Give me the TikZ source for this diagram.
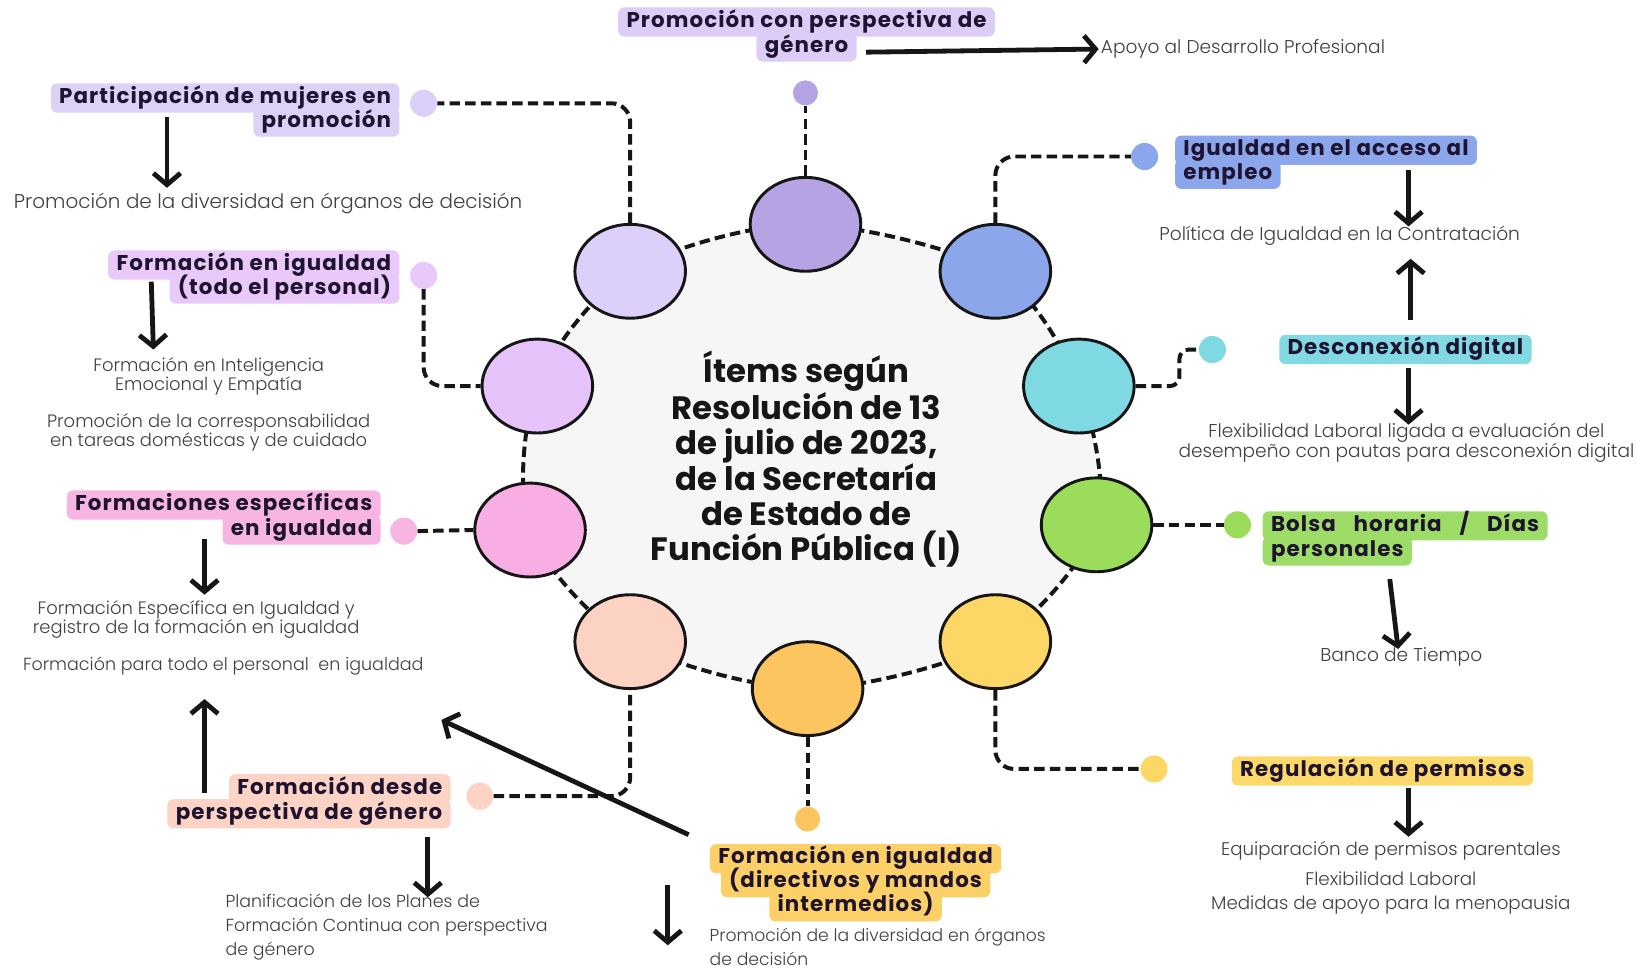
\documentclass[tikz,border=0pt]{standalone}
\usepackage{fontspec}
\setmainfont{Poppins}
\IfFontExistsTF{Poppins Light}{\newfontfamily\descfont{Poppins Light}}{\newfontfamily\descfont{Poppins}}
\newfontfamily\labfont{Poppins}[LetterSpace=5]
\newfontfamily\titfont{Poppins}
\usetikzlibrary{arrows.meta,shapes.geometric}
\definecolor{cTop}{HTML}{B5A3E3}
\definecolor{cUL}{HTML}{DCD0FA}
\definecolor{cUR}{HTML}{8CA6EC}
\definecolor{cL}{HTML}{E6C3FA}
\definecolor{cR}{HTML}{7FD9E3}
\definecolor{cPK}{HTML}{F8AEE3}
\definecolor{cG}{HTML}{9BDC5B}
\definecolor{cP}{HTML}{FCD2C2}
\definecolor{cB}{HTML}{FCC560}
\definecolor{cY}{HTML}{FDD766}
\definecolor{lTop}{HTML}{DCCDF8}
\definecolor{lUL}{HTML}{DCD2F8}
\definecolor{lL}{HTML}{E9C8FA}
\definecolor{lPK}{HTML}{F7B6E2}
\definecolor{lP}{HTML}{FCD3C4}
\definecolor{lB}{HTML}{FCD067}
\definecolor{lUR}{HTML}{8CA6EC}
\definecolor{lR}{HTML}{82D8E3}
\definecolor{lG}{HTML}{9DDC66}
\definecolor{lY}{HTML}{FCD96A}
\definecolor{labtext}{HTML}{1E1430}
\definecolor{desctext}{HTML}{404040}
\definecolor{ink}{HTML}{161616}
\definecolor{ringfill}{HTML}{F6F6F6}
% all label lines; #1 = extra options (pass 1: backgrounds, pass 2: texts)
\newcommand\labelset[1]{%
\node[lab,fill=lTop,#1] (t2) at (773,45) {género};
\node[lab,fill=lTop,#1] (t1) at (773,21) {Promoción con perspectiva de};
\node[lab,fill=lUL,anchor=east,#1] (ul2) at (383,117) {promoción};
\node[lab,fill=lUL,anchor=east,#1] (ul1) at (383,94) {Participación de mujeres en};
\node[lab,fill=lL,anchor=east,#1] (l2) at (383,277) {(todo el personal)};
\node[lab,fill=lL,anchor=east,#1] (l1) at (383,254) {Formación en igualdad};
\node[lab,fill=lPK,anchor=east,#1] (pk2) at (365,508) {en igualdad};
\node[lab,fill=lPK,anchor=east,#1] (pk1) at (365,484) {Formaciones específicas};
\node[lab,fill=lP,anchor=east,#1] (p2) at (432,780) {perspectiva de género};
\node[lab,fill=lP,anchor=east,#1] (p1) at (432,756) {Formación desde};
\node[lab,fill=lB,#1] (b3) at (820,869) {intermedios)};
\node[lab,fill=lB,#1] (b2) at (820,846) {(directivos y mandos};
\node[lab,fill=lB,#1] (b1) at (820,823) {Formación en igualdad};
\node[lab,fill=lUR,anchor=west,#1] (ur2) at (1126,167) {empleo};
\node[lab,fill=lUR,anchor=west,#1] (ur1) at (1126,144) {Igualdad en el acceso al};
\node[lab,fill=lR,#1] (rl) at (1347,335) {Desconexión digital};
\node[lab,fill=lG,anchor=west,#1] (g2) at (1210,528) {personales};
\node[lab,fill=lG,anchor=west,#1] (g1) at (1210,504) {\makebox[257pt][s]{Bolsa horaria / Días}};
\node[lab,fill=lY,#1] (yl) at (1325,739) {Regulación de permisos};
}
\begin{document}
\begin{tikzpicture}[x=1pt,y={(0pt,-1pt)},
  ringc/.style={ellipse,draw=ink,line width=2.8pt,minimum width=106pt,minimum height=90pt,inner sep=0pt},
  dotn/.style={circle,minimum size=26pt,inner sep=0pt},
  dl/.style={draw=ink,line width=3.8pt,dash pattern=on 10pt off 5pt},
  arr/.style={draw=ink,line width=4.6pt,-{Straight Barb[length=11pt,width=26pt]}},
  lab/.style={rounded corners=6pt,inner xsep=8pt,inner ysep=4pt,text height=15pt,text depth=5pt,font=\labfont\bfseries\fontsize{20.5}{22}\selectfont,text=labtext},
  descR/.style={inner sep=0pt,text=desctext,align=center,font=\descfont\fontsize{17.8}{19}\selectfont},
  descL/.style={inner sep=0pt,text=desctext,align=center,font=\descfont\fontsize{17.2}{18}\selectfont},
  descB/.style={inner sep=0pt,text=desctext,align=left,font=\descfont\fontsize{16.7}{23}\selectfont}
]
\useasboundingbox[fill=white] (0,0) rectangle (1568,930);

% ring
\path[dl,fill=ringfill] plot[smooth cycle] coordinates {(770,215) (954,260) (1034,370) (1051,503) (954,615) (775,660) (604,615) (508,508) (515,370) (604,260)};

% title
\node[align=center,text=ink,font=\titfont\bfseries\fontsize{31}{33.2}\selectfont] (title) at (773,440)
 {Ítems según\\Resolución de 13\\de julio de 2023,\\de la Secretaría\\de Estado de\\Función Pública (I)};

% ring circles
\node[ringc,fill=cTop] (c1) at (772,215) {};
\node[ringc,fill=cUL]  (c2) at (604,260) {};
\node[ringc,fill=cUR]  (c3) at (954,260) {};
\node[ringc,fill=cL]   (c4) at (515,370) {};
\node[ringc,fill=cR]   (c5) at (1034,370) {};
\node[ringc,fill=cPK]  (c6) at (508,508) {};
\node[ringc,fill=cG]   (c7) at (1051,503) {};
\node[ringc,fill=cP]   (c8) at (604,615) {};
\node[ringc,fill=cB]   (c9) at (774,660) {};
\node[ringc,fill=cY]   (c10) at (954,615) {};

% dots
\node[dotn,fill=cTop,minimum size=24pt] (d1) at (772,89) {};
\node[dotn,fill=cUL] (d2) at (406,99) {};
\node[dotn,fill=cUR] (d3) at (1097,150) {};
\node[dotn,fill=lL]  (d4) at (406,264) {};
\node[dotn,fill=cR]  (d5) at (1162,335) {};
\node[dotn,fill=lPK] (d6) at (387,509) {};
\node[dotn,fill=cG]  (d7) at (1186,503) {};
\node[dotn,fill=lP]  (d8) at (460,763) {};
\node[dotn,fill=cB,minimum size=24pt]  (d9) at (774,785) {};
\node[dotn,fill=cY]  (d10) at (1106,737) {};

% dashed connectors
\draw[dl] (c1.north) -- (d1.south);
\draw[dl,rounded corners=18pt] (c2.north) |- (d2.east);
\draw[dl,rounded corners=18pt] (c3.north) |- (d3.west);
\draw[dl,rounded corners=18pt] (d4.south) |- (c4.west);
\draw[dl,rounded corners=9pt] (c5.east) -- ++(42,0) |- (d5.west);
\draw[dl] (d6.east) -- (c6.west);
\draw[dl] (c7.east) -- (d7.west);
\draw[dl,rounded corners=18pt] (d8.east) -| (c8.south);
\draw[dl] (c9.south) -- (d9.north);
\draw[dl,rounded corners=18pt] (c10.south) |- (d10.west);

% labels: backgrounds first, then texts
\labelset{text opacity=0}
\labelset{fill=none}

% descriptions
\node[descR,anchor=west] (e0) at (1055,47) {Apoyo al Desarrollo Profesional};
\node[descR,font=\descfont\fontsize{19.1}{20}\selectfont] (e1) at (257,195) {Promoción de la diversidad en órganos de decisión};
\node[descL] (e2) at (200,361) {Formación en Inteligencia\\Emocional y Empatía};
\node[descL] (e3) at (200,414) {Promoción de la corresponsabilidad\\en tareas domésticas y de cuidado};
\node[descL] (e4) at (188,594) {Formación Específica en Igualdad y\\registro de la formación en igualdad};
\node[descL,font=\descfont\fontsize{16.8}{18}\selectfont] (e5) at (214,638) {Formación para todo el personal\ \ en igualdad};
\node[descB,anchor=north west] (e6) at (216,857) {Planificación de los Planes de\\Formación Continua con perspectiva\\de género};
\node[descB,anchor=north west,font=\descfont\fontsize{16.5}{23}\selectfont] (e7) at (680,889) {Promoción de la diversidad en órganos\\de decisión};
\node[descR] (e8) at (1284,226) {Política de Igualdad en la Contratación};
\node[descR] (e9) at (1348,424) {Flexibilidad Laboral ligada a evaluación del\\desempeño con pautas para desconexión digital};
\node[descR] (e10) at (1343,630) {Banco de Tiempo};
\node[descR,font=\descfont\fontsize{17.5}{19}\selectfont] (e11) at (1333,815) {Equiparación de permisos parentales};
\node[descR,font=\descfont\fontsize{17.5}{23}\selectfont] (e12) at (1333,856) {Flexibilidad Laboral\\Medidas de apoyo para la menopausia};

% arrow end points
\coordinate (a0s) at (830,50);   \coordinate (a0e) at (1053,47);
\coordinate (a1s) at (160,112);  \coordinate (a1e) at (160,180);
\coordinate (a2s) at (145,270);  \coordinate (a2e) at (147,335);
\coordinate (a3s) at (196,517);  \coordinate (a3e) at (196,570);
\coordinate (a4s) at (196,760);  \coordinate (a4e) at (196,670);
\coordinate (a5s) at (660,800);  \coordinate (a5e) at (423,690);
\coordinate (a6s) at (410,802);  \coordinate (a6e) at (410,860);
\coordinate (a7s) at (640,848);  \coordinate (a7e) at (640,906);
\coordinate (a8s) at (1350,163); \coordinate (a8e) at (1350,217);
\coordinate (a9s) at (1352,307); \coordinate (a9e) at (1352,248);
\coordinate (a10s) at (1350,353); \coordinate (a10e) at (1350,407);
\coordinate (a11s) at (1332,555); \coordinate (a11e) at (1340,622);
\coordinate (a12s) at (1350,755); \coordinate (a12e) at (1350,802);
\foreach \i in {0,...,12} {\draw[arr] (a\i s) -- (a\i e);}
\end{tikzpicture}
\end{document}
